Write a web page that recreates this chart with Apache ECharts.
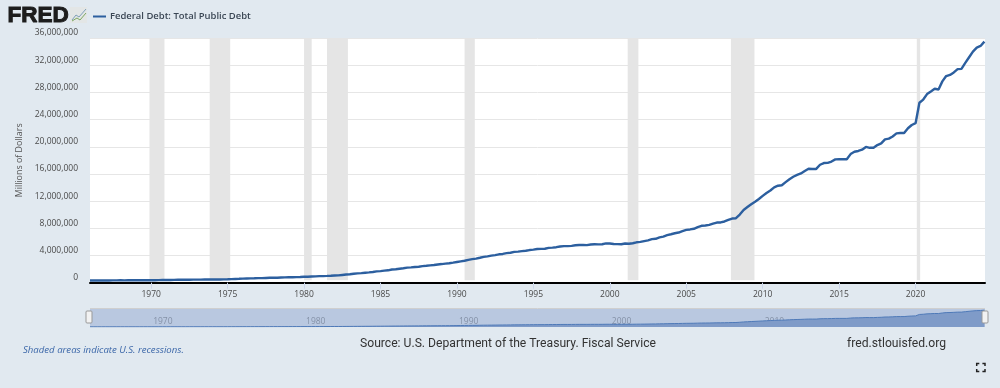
<!DOCTYPE html>
<html><head><meta charset="utf-8">
<style>html,body{margin:0;padding:0;background:#e1e9f0}#c{width:1000px;height:388px}</style>
<script src="https://cdn.jsdelivr.net/npm/echarts@6/dist/echarts.min.js"></script>
</head><body><div id="c"></div>
<script>
const seriesName = 'Federal Debt: Total Public Debt';
const startYear = 1966;
const debtValues = [
320999,316097,324748,329319, 330947,322893,334741,344663, 351729,347578,358029,358029,
359000,353720,365000,368000, 372000,370900,382000,389000, 391000,398000,414000,424000,
427000,427000,436000,449000, 458000,458000,464000,469000, 468000,475000,481000,492000,
509000,533000,554000,576000, 601000,620000,635000,653000, 680000,674000,698000,719000,
729000,730000,771000,789000, 805000,804000,827000,845000, 870000,883000,908000,930000,
965000,970000,998000,1029000, 1062000,1084000,1142000,1197000, 1245000,1319000,1377000,1410000,
1463000,1512000,1572000,1663000, 1710000,1774000,1823000,1945000, 1986000,2059000,2125000,2214000,
2250000,2313000,2350000,2431000, 2488000,2547000,2602000,2684000, 2741000,2799000,2857000,2953000,
3053000,3143000,3233000,3365000, 3466000,3538000,3665000,3801000, 3881000,3984000,4065000,4177000,
4231000,4352000,4411000,4536000, 4576000,4645000,4693000,4801000, 4864000,4951000,4974000,4989000,
5118000,5162000,5225000,5324000, 5381000,5376000,5413000,5503000, 5542000,5548000,5526000,5614000,
5651000,5639000,5656000,5776000, 5773000,5686000,5674000,5662000, 5774000,5727000,5807000,5943000,
6006000,6126000,6228000,6406000, 6460000,6670000,6783000,6998000, 7131000,7274000,7379000,7596000,
7777000,7836000,7933000,8170000, 8371000,8420000,8507000,8680000, 8849000,8867000,9008000,9229000,
9437000,9492000,10024000,10699000, 11126000,11545000,11909000,12311000, 12773000,13201000,13561000,14025000,
14270000,14343000,14790000,15222000, 15582000,15855000,16066000,16432000, 16771000,16738000,16738000,17352000,
17601000,17632000,17824000,18141000, 18152000,18152000,18151000,18922000, 19264000,19381000,19573000,19977000,
19846000,19845000,20245000,20493000, 21090000,21195000,21516000,21974000, 22028000,22023000,22719000,23201000,
23467000,26477000,26945000,27748000, 28133000,28529000,28429000,29617000, 30401000,30569000,30929000,31420000,
31458000,32333000,33167000,34001000, 34587000,34832000,35465000
];
const recessions = [[1969.89,1970.87],[1973.83,1975.17],[1980.0,1980.5],[1981.5,1982.87],[1990.5,1991.17],[2001.17,2001.87],[2007.92,2009.46],[2020.08,2020.3]];
const yearTicks = [1970,1975,1980,1985,1990,1995,2000,2005,2010,2015,2020];
const navTicks = [1970,1980,1990,2000,2010,2020];
const points = debtValues.map((v,i)=>[startYear+i/4, v]);

const chart = echarts.init(document.getElementById('c'), null, {renderer:'canvas'});
const axisFont = {fontFamily:'"Open Sans"', fontSize:8.5, color:'#4a4a4a'};
const corner = (x,y,dx,dy)=>({type:'polyline',shape:{points:[[x,y+dy],[x,y],[x+dx,y]]},style:{stroke:'#222',lineWidth:1.5,fill:null}});
chart.setOption({
  animation:false,
  backgroundColor:'#e1e9f0',
  legend:{left:88,top:7,data:[seriesName],itemWidth:13,itemHeight:2,icon:'rect',itemGap:4,
    textStyle:{fontFamily:'"Open Sans"',fontSize:9.45,fontWeight:600,color:'#3a4654',padding:[0,0,0,-1]}},
  grid:[
    {left:90,right:15,top:38,height:244.7,show:true,backgroundColor:'#fff',borderWidth:0,outerBoundsMode:'none'},
    {left:90,right:15,top:309,height:18,show:true,backgroundColor:'#b9c8e0',borderWidth:0,outerBoundsMode:'none'}
  ],
  xAxis:[
    {type:'value',gridIndex:0,min:startYear,max:2024.54,splitLine:{show:false},
     axisLine:{onZero:false,lineStyle:{color:'#000',width:2}},
     axisTick:{length:6,lineStyle:{color:'#ccd6eb'},customValues:yearTicks},
     axisLabel:Object.assign({margin:7,customValues:yearTicks,formatter:v=>String(v)},axisFont)},
    {type:'value',gridIndex:1,min:startYear,max:2024.54,splitLine:{show:false},
     axisLine:{show:false},axisTick:{show:false},position:'bottom',
     axisLabel:{inside:true,margin:1,align:'left',padding:[0,0,0,2],customValues:navTicks,formatter:v=>String(v),
       fontFamily:'"Open Sans"',fontSize:8.5,color:'rgba(90,100,120,0.55)'}}
  ],
  yAxis:[
    {type:'value',gridIndex:0,min:0,max:36000000,interval:4000000,name:'Millions of Dollars',nameLocation:'middle',nameGap:66,
     nameTextStyle:{fontFamily:'"Open Sans"',fontSize:8.9,color:'#555'},
     axisLine:{show:false},axisTick:{show:false},splitLine:{lineStyle:{color:'#e6e6e6',width:1}},
     axisLabel:Object.assign({margin:12,verticalAlign:'bottom',lineHeight:10,formatter:v=>v.toLocaleString('en-US')},axisFont)},
    {type:'value',gridIndex:1,min:0,max:38000000,show:false}
  ],
  series:[
    {name:seriesName,type:'line',xAxisIndex:0,yAxisIndex:0,data:points,showSymbol:false,symbol:'none',
     lineStyle:{color:'#2c5f9f',width:2.4},itemStyle:{color:'#2c5f9f'},z:5,
     markArea:{silent:true,itemStyle:{color:'#e5e5e5'},
       data:recessions.map(r=>[{xAxis:r[0],yAxis:36000000},{xAxis:r[1],yAxis:350000}])}},
    {name:'navigator',type:'line',xAxisIndex:1,yAxisIndex:1,data:points,showSymbol:false,symbol:'none',
     lineStyle:{color:'#4f7ab8',width:1},areaStyle:{color:'#7f9bc8',opacity:1},z:2}
  ],
  graphic:[
    {type:'text',x:7.5,y:4.5,style:{text:'FRED',font:'900 22.5px "Liberation Sans"',fill:'#1d1d1d',stroke:'#1d1d1d',lineWidth:1}},
    {type:'rect',shape:{x:70,y:7,width:17,height:16},style:{fill:'#e3e6e6'}},
    {type:'polyline',shape:{points:[[72,20],[76,15],[79,17],[86,9]]},style:{stroke:'#7fa0b8',lineWidth:1,fill:null}},
    {type:'polyline',shape:{points:[[72,21],[77,18],[80,20],[86,13]]},style:{stroke:'#7da860',lineWidth:1,fill:null}},
    {type:'line',shape:{x1:90,y1:308.5,x2:985,y2:308.5},style:{stroke:'#cfcfcf',lineWidth:1},z:20},
    {type:'rect',shape:{x:86,y:311,width:6,height:12,r:1},style:{fill:'#f2f2f2',stroke:'#999',lineWidth:1},z:20},
    {type:'rect',shape:{x:982,y:311,width:6,height:12,r:1},style:{fill:'#f2f2f2',stroke:'#999',lineWidth:1},z:20},
    {type:'text',x:23,y:345.5,style:{text:'Shaded areas indicate U.S. recessions.',font:'italic 9.6px "Open Sans"',fill:'#3a66a8'}},
    {type:'text',x:360,y:338,style:{text:'Source: U.S. Department of the Treasury. Fiscal Service',font:'12.15px Roboto',fill:'#333'}},
    {type:'text',x:847,y:338,style:{text:'fred.stlouisfed.org',font:'12.15px Roboto',fill:'#333'}},
    corner(976.7,363.5,2.6,2.6),corner(985,363.5,-2.6,2.6),corner(976.7,371.5,2.6,-2.6),corner(985,371.5,-2.6,-2.6)
  ]
});
</script></body></html>
